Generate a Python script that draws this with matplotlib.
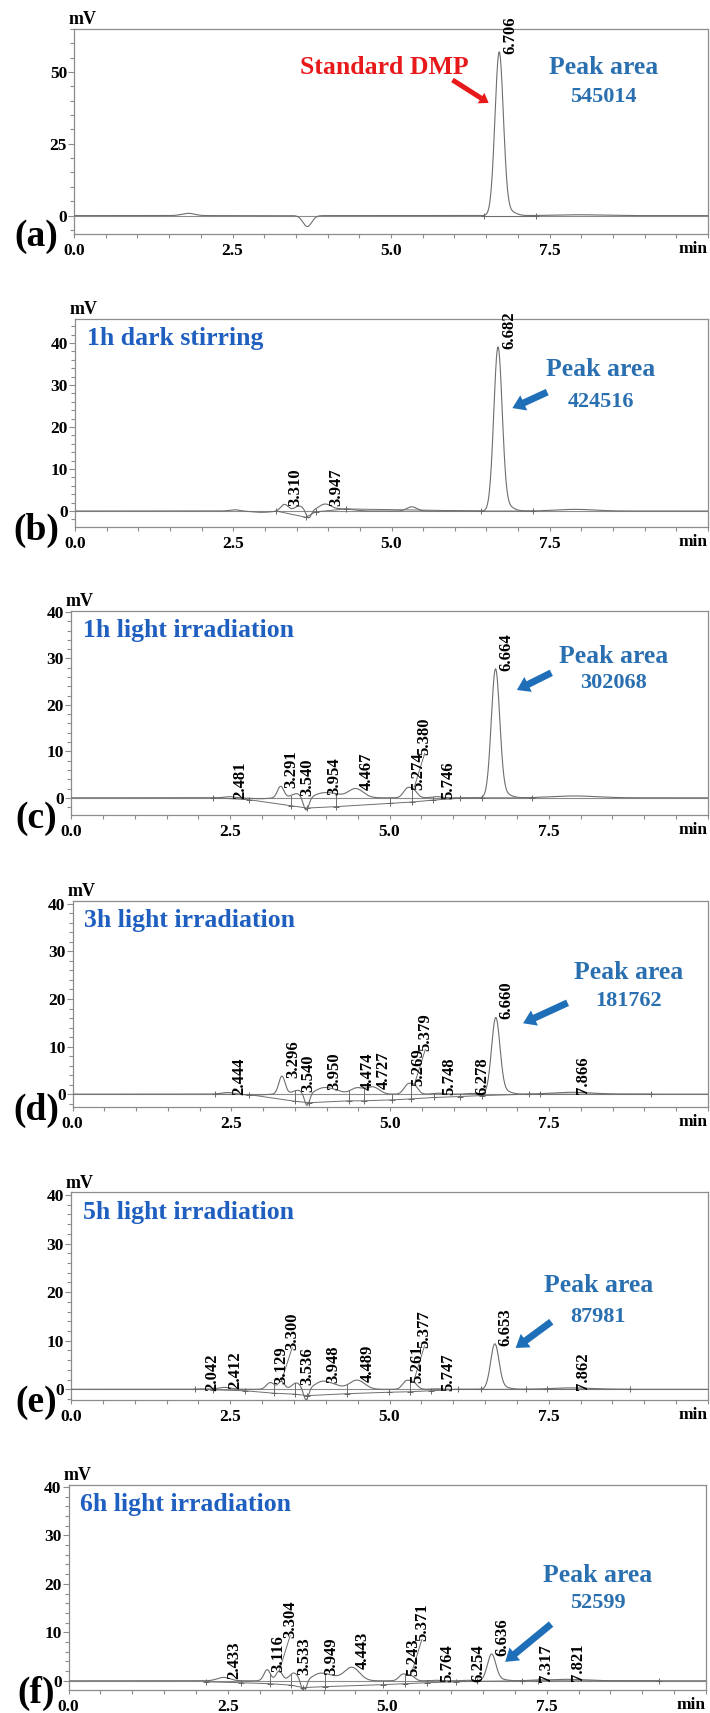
import numpy as np
import matplotlib
matplotlib.use("Agg")
import matplotlib.pyplot as plt
from matplotlib.ticker import MultipleLocator, FixedLocator, FormatStrFormatter

plt.rcParams["font.family"] = ["Liberation Serif", "DejaVu Serif"]
plt.rcParams["font.weight"] = "bold"

W, H = 710, 1713

# labelled peaks: retention time (min), height (mV), sigma (min)
a_rt = [6.706]
a_h = [56.5]
a_sd = [0.066]
# unlabelled features (bumps, system dip, tailing)
a_xrt = [1.80, 3.68, 6.86, 7.95]
a_xh = [0.8, -3.8, 1.5, 0.3]
a_xsd = [0.10, 0.07, 0.10, 0.35]
# integration marks: time, baseline level
a_bt = [6.47, 7.29]
a_by = [0.0, 0.0]

b_rt = [3.310, 3.947, 6.682]
b_h = [1.6, 1.6, 38.6]
b_sd = [0.06, 0.10, 0.066]
b_xrt = [2.52, 2.95, 3.54, 3.69, 4.25, 5.32, 6.82, 7.90]
b_xh = [0.3, -0.3, 1.2, -1.8, 0.5, 1.0, 1.2, 0.4]
b_xsd = [0.08, 0.15, 0.07, 0.04, 0.15, 0.08, 0.10, 0.30]
b_bt = [3.18, 3.65, 3.80, 4.28, 6.42, 7.24]
b_by = [0.0, -1.5, -0.2, 0.5, 0.0, 0.0]

c_rt = [2.481, 3.291, 3.540, 3.954, 4.467, 5.274, 5.380, 5.746, 6.664]
c_h = [0.25, 2.5, 0.9, 1.0, 2.0, 1.8, 1.5, 0.25, 27.4]
c_sd = [0.08, 0.05, 0.08, 0.12, 0.12, 0.06, 0.06, 0.08, 0.066]
c_xrt = [2.95, 3.69, 4.15, 6.80, 7.90]
c_xh = [-0.2, -2.85, 0.6, 0.9, 0.4]
c_xsd = [0.15, 0.045, 0.10, 0.10, 0.35]
c_bt = [2.23, 2.79, 3.45, 3.71, 4.16, 5.00, 5.36, 5.68, 6.10, 6.45, 7.23]
c_by = [0.0, -0.4, -1.7, -2.2, -1.9, -1.2, -0.9, -0.5, -0.1, 0.0, 0.0]

d_rt = [2.444, 3.296, 3.540, 3.950, 4.474, 4.727, 5.269, 5.379, 5.748, 6.278, 6.660, 7.866]
d_h = [0.35, 3.8, 0.8, 1.3, 1.3, 1.5, 1.8, 1.7, 0.2, 0.15, 15.9, 0.4]
d_sd = [0.10, 0.05, 0.08, 0.12, 0.10, 0.10, 0.06, 0.06, 0.08, 0.08, 0.066, 0.30]
d_xrt = [2.85, 3.69, 4.15, 6.80]
d_xh = [-0.2, -2.6, 0.6, 0.6]
d_xsd = [0.15, 0.04, 0.10, 0.10]
d_bt = [2.25, 2.78, 3.50, 3.72, 4.35, 4.58, 5.03, 5.33, 5.69, 6.10, 6.45, 7.19, 7.36, 9.10]
d_by = [0.0, -0.1, -1.5, -1.8, -1.4, -1.4, -1.2, -1.0, -0.7, -0.5, -0.3, 0.0, 0.0, 0.0]

e_rt = [2.042, 2.412, 3.129, 3.300, 3.536, 3.948, 4.489, 5.261, 5.377, 5.747, 6.653, 7.862]
e_h = [0.1, 0.4, 1.4, 1.6, 1.3, 1.6, 1.9, 1.6, 1.3, 0.1, 9.2, 0.3]
e_sd = [0.08, 0.10, 0.06, 0.05, 0.07, 0.12, 0.12, 0.06, 0.06, 0.08, 0.066, 0.30]
e_xrt = [3.69, 4.15, 6.79]
e_xh = [-2.4, 0.6, 0.4]
e_xsd = [0.04, 0.10, 0.10]
e_bt = [1.94, 2.23, 2.73, 3.18, 3.51, 3.71, 4.34, 4.99, 5.32, 5.65, 6.08, 6.43, 7.15, 7.48, 8.78]
e_by = [0.0, -0.1, -0.3, -0.8, -1.0, -1.3, -0.9, -0.6, -0.5, -0.3, 0.0, 0.0, 0.0, 0.0, 0.0]

f_rt = [2.433, 3.116, 3.304, 3.533, 3.949, 4.443, 5.243, 5.371, 5.764, 6.254, 6.636, 7.317, 7.821]
f_h = [0.7, 2.3, 2.0, 1.6, 1.5, 2.8, 1.3, 1.0, 0.1, 0.1, 5.4, 0.1, 0.3]
f_sd = [0.10, 0.05, 0.05, 0.07, 0.12, 0.12, 0.06, 0.06, 0.08, 0.08, 0.066, 0.10, 0.30]
f_xrt = [3.69, 4.15, 6.77]
f_xh = [-2.6, 0.6, 0.3]
f_xsd = [0.04, 0.10, 0.10]
f_bt = [2.15, 2.70, 3.16, 3.49, 3.68, 4.03, 4.93, 5.28, 5.63, 6.08, 6.40, 7.12, 7.37, 9.27]
f_by = [-0.2, -0.4, -0.6, -0.9, -1.4, -1.2, -0.8, -0.6, -0.4, -0.2, -0.1, 0.0, 0.0, 0.0]

letters = ["(a)", "(b)", "(c)", "(d)", "(e)", "(f)"]
conditions = ["", "1h dark stirring", "1h light irradiation", "3h light irradiation",
              "5h light irradiation", "6h light irradiation"]
peak_areas = [545014, 424516, 302068, 181762, 87981, 52599]

panels = [
    (a_rt, a_h, a_sd, a_xrt, a_xh, a_xsd, a_bt, a_by),
    (b_rt, b_h, b_sd, b_xrt, b_xh, b_xsd, b_bt, b_by),
    (c_rt, c_h, c_sd, c_xrt, c_xh, c_xsd, c_bt, c_by),
    (d_rt, d_h, d_sd, d_xrt, d_xh, d_xsd, d_bt, d_by),
    (e_rt, e_h, e_sd, e_xrt, e_xh, e_xsd, e_bt, e_by),
    (f_rt, f_h, f_sd, f_xrt, f_xh, f_xsd, f_bt, f_by),
]

# axes boxes in pixels: left, right, top, bottom
boxes = [(74, 708, 28.5, 234), (75, 708, 319, 527), (71, 708, 611, 815),
         (72.5, 708, 901, 1107), (71, 708, 1192, 1400), (68.5, 706, 1485, 1690)]
ylims = [(-6.4, 65.1), (-3.8, 45.7), (-3.7, 40.2), (-2.7, 40.6), (-2.2, 40.6), (-1.9, 40.4)]
ymajor = [25, 10, 10, 10, 10, 10]
yminor = [5, 2, 2, 2, 2, 2]

# "Peak area" text centre, number centre, arrow tail, arrow head (min, mV)
area_txt = [(8.35, 51.4), (8.31, 33.6), (8.52, 30.5), (8.75, 25.5), (8.28, 21.3), (8.30, 21.8)]
area_num = [(8.35, 41.3), (8.31, 26.0), (8.52, 24.7), (8.75, 19.6), (8.28, 14.9), (8.30, 16.0)]
arrow_tail = [(5.97, 47.2), (7.46, 28.3), (7.54, 26.9), (7.79, 19.2), (7.54, 13.9), (7.57, 11.7)]
arrow_head = [(6.54, 39.2), (6.91, 24.5), (7.00, 23.2), (7.09, 14.9), (6.98, 8.5), (6.85, 3.9)]

TRACE = "#6e6e6e"
FRAME = "#8c8c8c"
TITLE_BLUE = "#1f5fc0"
AREA_BLUE = "#2a70b0"
ARROW_BLUE = "#1f6fb8"
RED = "#e8191b"

t = np.linspace(0, 10, 5001)


def gauss_sum(x, rts, hs, sds):
    x = np.asarray(x, dtype=float)
    y = np.zeros_like(x)
    for r, h, s in zip(rts, hs, sds):
        y = y + h * np.exp(-0.5 * ((x - r) / s) ** 2)
    return y


fig = plt.figure(figsize=(W / 100, H / 100), dpi=100)
axes = []
for i, (l, r, tp, bt) in enumerate(boxes):
    ax = fig.add_axes([l / W, 1 - bt / H, (r - l) / W, (bt - tp) / H])
    axes.append(ax)
    rts, hs, sds, xrts, xhs, xsds, bts, bys = panels[i]
    allr, allh, alls = rts + xrts, hs + xhs, sds + xsds

    ax.axhline(0, color=FRAME, lw=0.8, zorder=1)
    ax.plot(t, gauss_sum(t, allr, allh, alls), color=TRACE, lw=0.8, zorder=3)

    # integration baseline, drop lines and marks
    ax.plot(bts, bys, color=TRACE, lw=0.7, zorder=2)
    ytr = gauss_sum(bts, allr, allh, alls)
    for k, (bx, by) in enumerate(zip(bts, bys)):
        if 0 < k < len(bts) - 1 and ytr[k] - by > 0.3:
            ax.plot([bx, bx], [by, ytr[k]], color=TRACE, lw=0.7, zorder=2)
    ax.plot(bts, bys, ls="none", marker="+", ms=5, mew=0.7, color="#666666", zorder=4)

    ax.set_xlim(0, 10)
    ax.set_ylim(*ylims[i])
    ax.xaxis.set_major_locator(FixedLocator([0, 2.5, 5.0, 7.5]))
    ax.xaxis.set_minor_locator(MultipleLocator(0.5))
    ax.xaxis.set_major_formatter(FormatStrFormatter("%.1f"))
    ax.yaxis.set_major_locator(MultipleLocator(ymajor[i]))
    ax.yaxis.set_minor_locator(MultipleLocator(yminor[i]))
    for s in ax.spines.values():
        s.set_color(FRAME)
        s.set_linewidth(0.9)
    ax.tick_params(which="both", direction="out", color=FRAME, width=0.8, labelsize=12.5)
    ax.tick_params(axis="y", which="major", length=4, pad=1)
    ax.tick_params(axis="y", which="minor", length=3)
    ax.tick_params(axis="x", which="both", length=3, pad=3.5)

    ax.annotate("mV", xy=(0, 1), xycoords="axes fraction", xytext=(9, 9),
                textcoords="offset pixels", ha="center", va="center", fontsize=13)
    ax.annotate("min", xy=(1, 0), xycoords="axes fraction", xytext=(-15, -15),
                textcoords="offset pixels", ha="center", va="center", fontsize=12.5)
    fig.text(36 / W, 1 - (bt + 3) / H, letters[i], ha="center", va="center", fontsize=27)

    if conditions[i]:
        ax.annotate(conditions[i], xy=(0, 1), xycoords="axes fraction", xytext=(12, -20),
                    textcoords="offset pixels", ha="left", va="center",
                    fontsize=18.5, color=TITLE_BLUE)

    ax.text(*area_txt[i], "Peak area", ha="center", va="center", fontsize=18.5, color=AREA_BLUE)
    ax.text(*area_num[i], str(peak_areas[i]), ha="center", va="center", fontsize=16, color=AREA_BLUE)

    if i == 0:
        ax.text(4.9, 51.4, "Standard DMP", ha="center", va="center", fontsize=18.5, color=RED)
        style = "simple,head_length=0.65,head_width=0.9,tail_width=0.36"
        col = RED
    else:
        style = "simple,head_length=0.9,head_width=1.2,tail_width=0.5"
        col = ARROW_BLUE
    ax.annotate("", xy=arrow_head[i], xytext=arrow_tail[i],
                arrowprops=dict(arrowstyle=style, color=col, lw=0, shrinkA=0, shrinkB=0))

# retention-time labels; a label too close to its neighbour is lifted above it
# and tied back to its apex with a leader line
fig.canvas.draw()
rend = fig.canvas.get_renderer()
for i, ax in enumerate(axes):
    rts, hs, sds, xrts, xhs, xsds, bts, bys = panels[i]
    allr, allh, alls = rts + xrts, hs + xhs, sds + xsds
    prev_x, prev_top = None, None
    for rt in sorted(rts):
        apex = float(gauss_sum([rt], allr, allh, alls)[0])
        lab = ax.annotate(f"{rt:.3f}", xy=(rt, apex), xytext=(3, -2), textcoords="offset pixels",
                          rotation=90, ha="left", va="bottom", fontsize=12, zorder=5)
        ext = lab.get_window_extent(rend)
        x_px = ax.transData.transform((rt, apex))[0]
        if prev_x is not None and x_px - prev_x < 12.5 and ext.y0 < prev_top:
            lab.set_position((3, -2 + prev_top - ext.y0))
            ext = lab.get_window_extent(rend)
            end = ax.transData.inverted().transform(((ext.x0 + ext.x1) / 2, ext.y0 + 2))
            ax.plot([rt, end[0]], [apex, end[1]], color=TRACE, lw=0.7, zorder=4)
        prev_x, prev_top = x_px, ext.y1 - 3

fig.savefig("out.png", dpi=100, facecolor="white")
